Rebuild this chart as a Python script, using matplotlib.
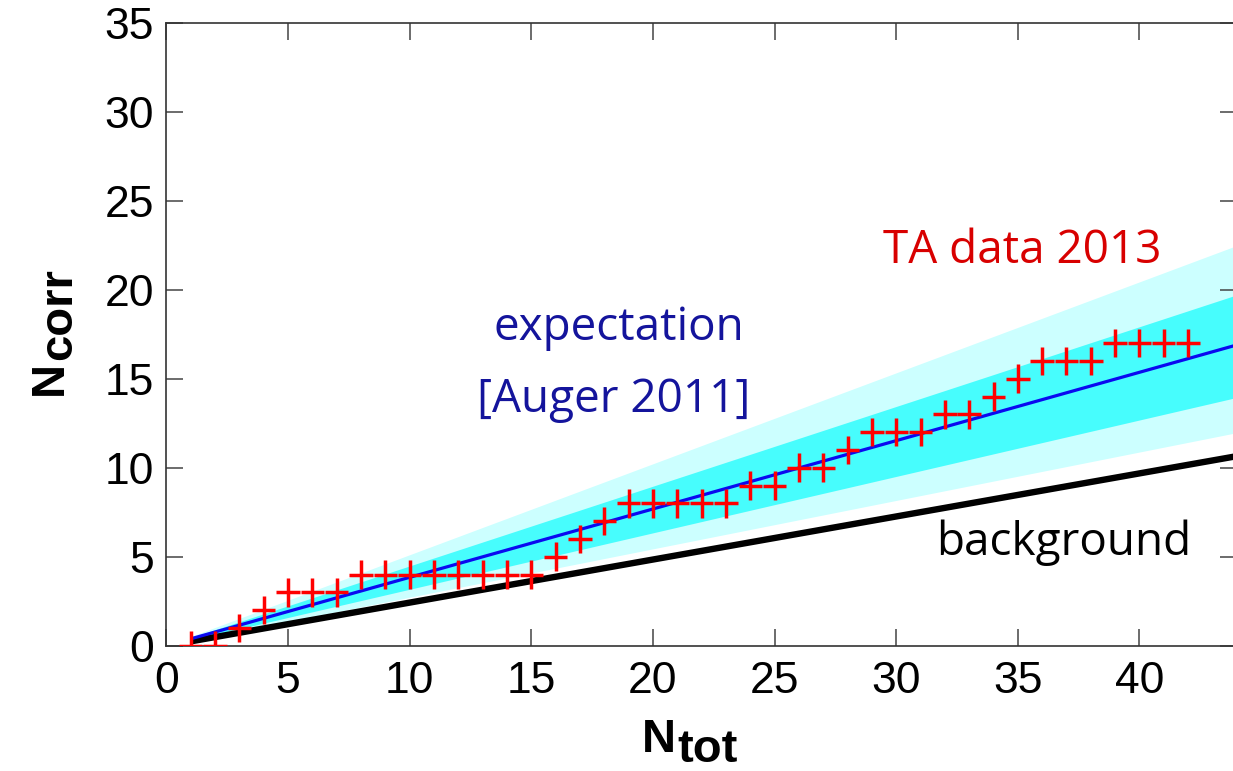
import numpy as np
import matplotlib
matplotlib.use("Agg")
import matplotlib.pyplot as plt

# TA cumulative correlated events vs. total events
n_tot = [1, 2, 3, 4, 5, 6, 7, 8, 9, 10, 11, 12, 13, 14, 15, 16, 17, 18, 19, 20, 21,
         22, 23, 24, 25, 26, 27, 28, 29, 30, 31, 32, 33, 34, 35, 36, 37, 38, 39, 40, 41, 42]
n_corr = [0, 0, 1, 2, 3, 3, 3, 4, 4, 4, 4, 4, 4, 4, 4, 5, 6, 7, 8, 8, 8,
          8, 8, 9, 9, 10, 10, 11, 12, 12, 12, 13, 13, 14, 15, 16, 16, 16, 17, 17, 17, 17]

# Expected correlating fraction (Auger) with 1- and 2-sigma ranges, and isotropic background
p_expect = 0.384
p_1sig = (0.317, 0.448)
p_2sig = (0.272, 0.511)
p_background = 0.242

x_range = [1, 44]
x_ticks = [0, 5, 10, 15, 20, 25, 30, 35, 40]
y_ticks = [0, 5, 10, 15, 20, 25, 30, 35]

W, H = 1233, 771
fig = plt.figure(figsize=(W / 100, H / 100), dpi=100)
ax = fig.add_axes([166.3 / W, 125.3 / H, 1070.5 / W, 623.0 / H])

xx = np.array(x_range, dtype=float)
ax.fill_between(xx, p_2sig[0] * xx, p_2sig[1] * xx, color="#ccffff", lw=0, zorder=1)
ax.fill_between(xx, p_1sig[0] * xx, p_1sig[1] * xx, color="#47fdfd", lw=0, zorder=2)
ax.plot(xx, p_background * xx, color="black", lw=4.6, solid_capstyle="butt", zorder=3)
ax.plot(xx, p_expect * xx, color="#0a0af0", lw=2.3, solid_capstyle="butt", zorder=4)

ax.errorbar(n_tot, n_corr, xerr=0.48, yerr=0.8, fmt="none", ecolor="#ff0000",
            elinewidth=2.5, capsize=0, zorder=5)

ax.set_xlim(0, 44)
ax.set_ylim(0, 35)
ax.set_xticks(x_ticks)
ax.set_yticks(y_ticks)
for s in ax.spines.values():
    s.set_color("#333333")
    s.set_linewidth(1.2)
ax.tick_params(direction="in", length=12, width=1.1, color="#444444",
               top=True, right=True, labelsize=32, pad=11)
for lab in ax.get_xticklabels() + ax.get_yticklabels():
    lab.set_fontfamily("Liberation Sans")
ax.tick_params(axis="y", pad=9)

txt_font = "Open Sans"
ax.text(35.2, 22.2, "TA data 2013", color="#d80000", fontsize=33,
        family=txt_font, ha="center", va="center")
ax.text(18.6, 17.85, "expectation", color="#14149c", fontsize=33,
        family=txt_font, ha="center", va="center")
ax.text(18.4, 13.8, "[Auger 2011]", color="#14149c", fontsize=33,
        family=txt_font, ha="center", va="center")
ax.text(36.9, 5.8, "background", color="black", fontsize=33,
        family=txt_font, ha="center", va="center")


def px(x, y):
    return x / W, 1 - y / H


lab_kw = dict(fontsize=34, fontweight="bold", family="Liberation Sans",
              rotation_mode="anchor", ha="left", va="baseline")
# x-axis label: N with subscript "tot"
fig.text(*px(642, 752), "N", **lab_kw)
fig.text(*px(677, 762), "tot", **lab_kw)
# y-axis label: N with subscript "corr"
fig.text(*px(62, 395), "N", rotation=90, **lab_kw)
fig.text(*px(71, 360), "corr", rotation=90, **lab_kw)

fig.savefig("out.png", dpi=100)
